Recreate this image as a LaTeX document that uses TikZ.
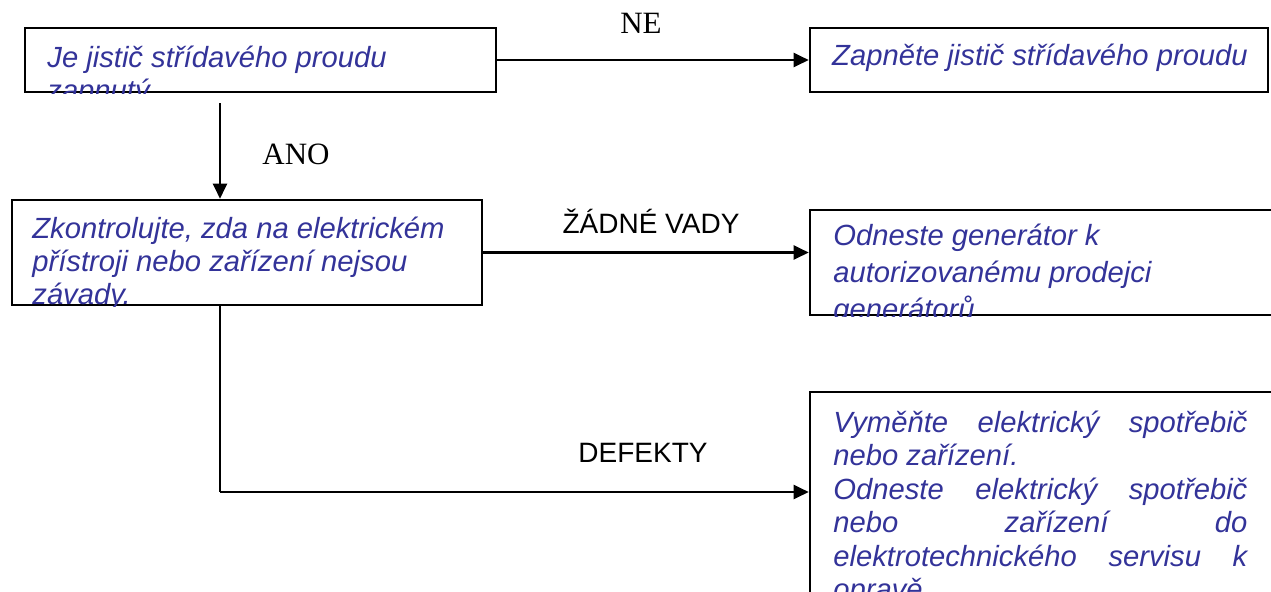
\documentclass[tikz,border=0pt]{standalone}
\usepackage{fontspec}
\setmainfont{Liberation Sans}
\newfontfamily\timesfont{Liberation Serif}
\usetikzlibrary{arrows.meta,positioning,calc}
\definecolor{TX}{HTML}{333399}

\begin{document}
\begin{tikzpicture}[x=0.5pt,y=-0.5pt,
    box/.style={draw=black, line width=1.3pt, inner sep=0pt},
    txt/.style={inner sep=0pt, anchor=base west, align=left,
      font=\fontsize{14.6}{16.5}\selectfont\itshape, text=TX},
    conn/.style={line width=1.1pt, -{Triangle[length=7.5pt,width=7pt]}},
    lbl/.style={inner sep=0pt, anchor=base, font=\fontsize{14}{14}\selectfont},
    lbltm/.style={inner sep=0pt, anchor=base, font=\fontsize{15.5}{15.5}\selectfont\timesfont}]
  \clip (0,0) rectangle (1271,591);

  % question: breaker on?  (base = last line)
  \node[box, minimum width=235.5pt, minimum height=32pt] (breaker) at (260.5,60) {};
  \begin{scope}
    \clip (breaker.south west) rectangle (breaker.north east);
    \node[txt] (breakertxt) at (47,100) {Je jistič střídavého proudu\\zapnutý};
  \end{scope}

  % switch it on
  \node[box, minimum width=229pt, minimum height=32pt] (switchon) at (1039,60) {};
  \node[txt, anchor=base] (switchontxt) at (1040,65) {Zapněte jistič střídavého proudu};

  % check the appliance
  \node[box, minimum width=235pt, minimum height=52.5pt] (inspect) at (247,252.5) {};
  \begin{scope}
    \clip (inspect.south west) rectangle (inspect.north east);
    \node[txt] (inspecttxt) at (32,304)
      {Zkontrolujte, zda na elektrickém\\přístroji nebo zařízení nejsou\\závady.};
  \end{scope}

  % no faults
  \node[box, minimum width=240pt, minimum height=52.5pt] (dealer) at (1050,262.5) {};
  \begin{scope}
    \clip (dealer.south west) rectangle (dealer.north east);
    \node[txt, font=\fontsize{14.6}{18.5}\selectfont\itshape] (dealertxt) at (833,319)
      {Odneste generátor k\\autorizovanému prodejci\\generátorů};
  \end{scope}

  % faults
  \node[box, minimum width=240pt, minimum height=124pt] (repair) at (1050,516) {};
  \begin{scope}
    \clip (repair.south west) rectangle (repair.north east);
    \node[txt, font=\fontsize{14.6}{16.75}\selectfont\itshape] (repairtxt) at (833,599.5)
      {\makebox[207pt][s]{Vyměňte elektrický spotřebič}\\
       nebo zařízení.\\
       \makebox[207pt][s]{Odneste elektrický spotřebič}\\
       \makebox[207pt][s]{nebo zařízení do}\\
       \makebox[207pt][s]{elektrotechnického servisu k}\\
       opravě.};
  \end{scope}

  % connectors
  \coordinate (yes) at (220,103);
  \coordinate (bend) at (220,492);
  \draw[conn] (breaker.east) -- (switchon.west);
  \draw[conn] (yes) -- (yes |- inspect.north);
  \draw[conn] (inspect.east) -- (inspect.east -| dealer.west);
  \draw[conn, -] (inspect.south -| bend) -- (bend);
  \draw[conn] (bend) -- (bend -| repair.west);

  \node[lbltm] (ne) at (641,33) {NE};
  \node[lbltm] (ano) at (296,164) {ANO};
  \node[lbl] (ok) at (651,233) {ŽÁDNÉ VADY};
  \node[lbl] (bad) at (643,462) {DEFEKTY};
\end{tikzpicture}
\end{document}
